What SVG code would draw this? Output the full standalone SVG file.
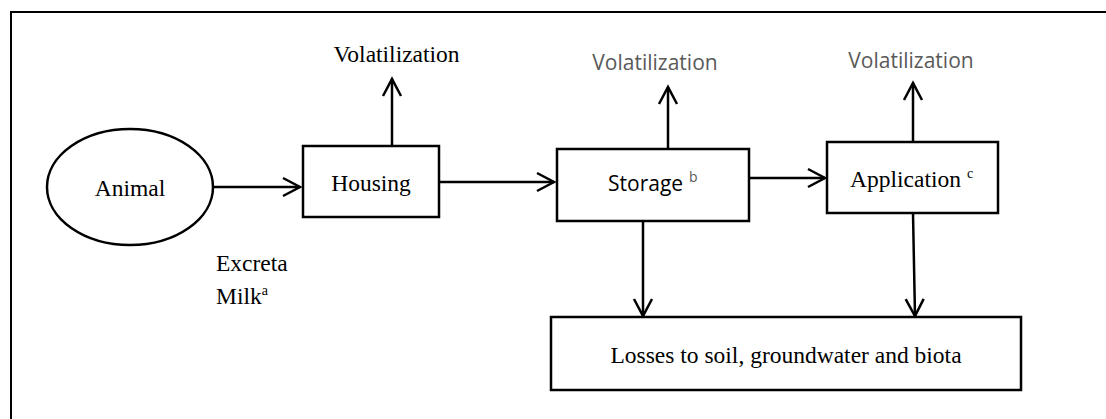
<svg xmlns="http://www.w3.org/2000/svg" width="1106" height="419" viewBox="0 0 1106 419">
  <style>
    .box { fill: #fff; stroke: #000; stroke-width: 2.5; }
    .edge { fill: none; stroke: #000; stroke-width: 2.5; }
    .serif { font-family: "Liberation Serif", "Times New Roman", serif; font-size: 23.5px; fill: #000; }
    .sans { font-family: "Open Sans", "Noto Sans", sans-serif; font-size: 21px; fill: #000; }
    .grey { fill: #595959; }
    .sup { font-size: 14px; }
  </style>
  <defs>
    <marker id="arrow" markerUnits="userSpaceOnUse" viewBox="-20 -12 23 24" refX="0" refY="0" markerWidth="23" markerHeight="24" orient="auto">
      <path d="M-17,-9 L0,0 L-17,9" fill="none" stroke="#000" stroke-width="2.5" stroke-linejoin="miter"/>
    </marker>
  </defs>

  <rect width="1106" height="419" fill="#fff"/>
  <!-- frame (top and left edges) -->
  <path d="M11,419 L11,12 L1106,12" fill="none" stroke="#000" stroke-width="2"/>

  <g id="connectors">
    <line class="edge" x1="213" y1="187" x2="300" y2="187" marker-end="url(#arrow)"/>
    <line class="edge" x1="392" y1="146" x2="392" y2="79" marker-end="url(#arrow)"/>
    <line class="edge" x1="439" y1="182" x2="554" y2="182" marker-end="url(#arrow)"/>
    <line class="edge" x1="668" y1="149" x2="668" y2="87" marker-end="url(#arrow)"/>
    <line class="edge" x1="749" y1="178" x2="825" y2="178" marker-end="url(#arrow)"/>
    <line class="edge" x1="913" y1="142" x2="913" y2="83" marker-end="url(#arrow)"/>
    <line class="edge" x1="643" y1="221" x2="643" y2="316" marker-end="url(#arrow)"/>
    <line class="edge" x1="913" y1="213" x2="915" y2="316" marker-end="url(#arrow)"/>
  </g>

  <g id="animal">
    <ellipse class="box" cx="130" cy="187" rx="83" ry="58"/>
    <text class="serif" x="130" y="196" text-anchor="middle">Animal</text>
  </g>

  <g id="excreta-label">
    <text class="serif" x="216" y="271">Excreta</text>
    <text class="serif" x="216" y="304">Milk<tspan class="sup" dy="-9">a</tspan></text>
  </g>

  <g id="housing">
    <rect class="box" x="303" y="146" width="136" height="71"/>
    <text class="serif" x="371" y="191" text-anchor="middle">Housing</text>
  </g>

  <g id="housing-volatilization">
    <text class="serif" x="396.5" y="62" text-anchor="middle">Volatilization</text>
  </g>

  <g id="storage">
    <rect class="box" x="557" y="149" width="192" height="72"/>
    <text class="sans" x="608" y="191">Storage<tspan class="sup grey" dx="6" dy="-9">b</tspan></text>
  </g>

  <g id="storage-volatilization">
    <text class="sans grey" x="655" y="70" text-anchor="middle">Volatilization</text>
  </g>

  <g id="application">
    <rect class="box" x="827" y="142" width="171" height="71"/>
    <text class="serif" x="850" y="187">Application<tspan class="sup" dx="6" dy="-9">c</tspan></text>
  </g>

  <g id="application-volatilization">
    <text class="sans grey" x="911" y="68" text-anchor="middle">Volatilization</text>
  </g>

  <g id="losses">
    <rect class="box" x="551" y="317" width="470" height="73"/>
    <text class="serif" x="786" y="363" text-anchor="middle">Losses to soil, groundwater and biota</text>
  </g>
</svg>
